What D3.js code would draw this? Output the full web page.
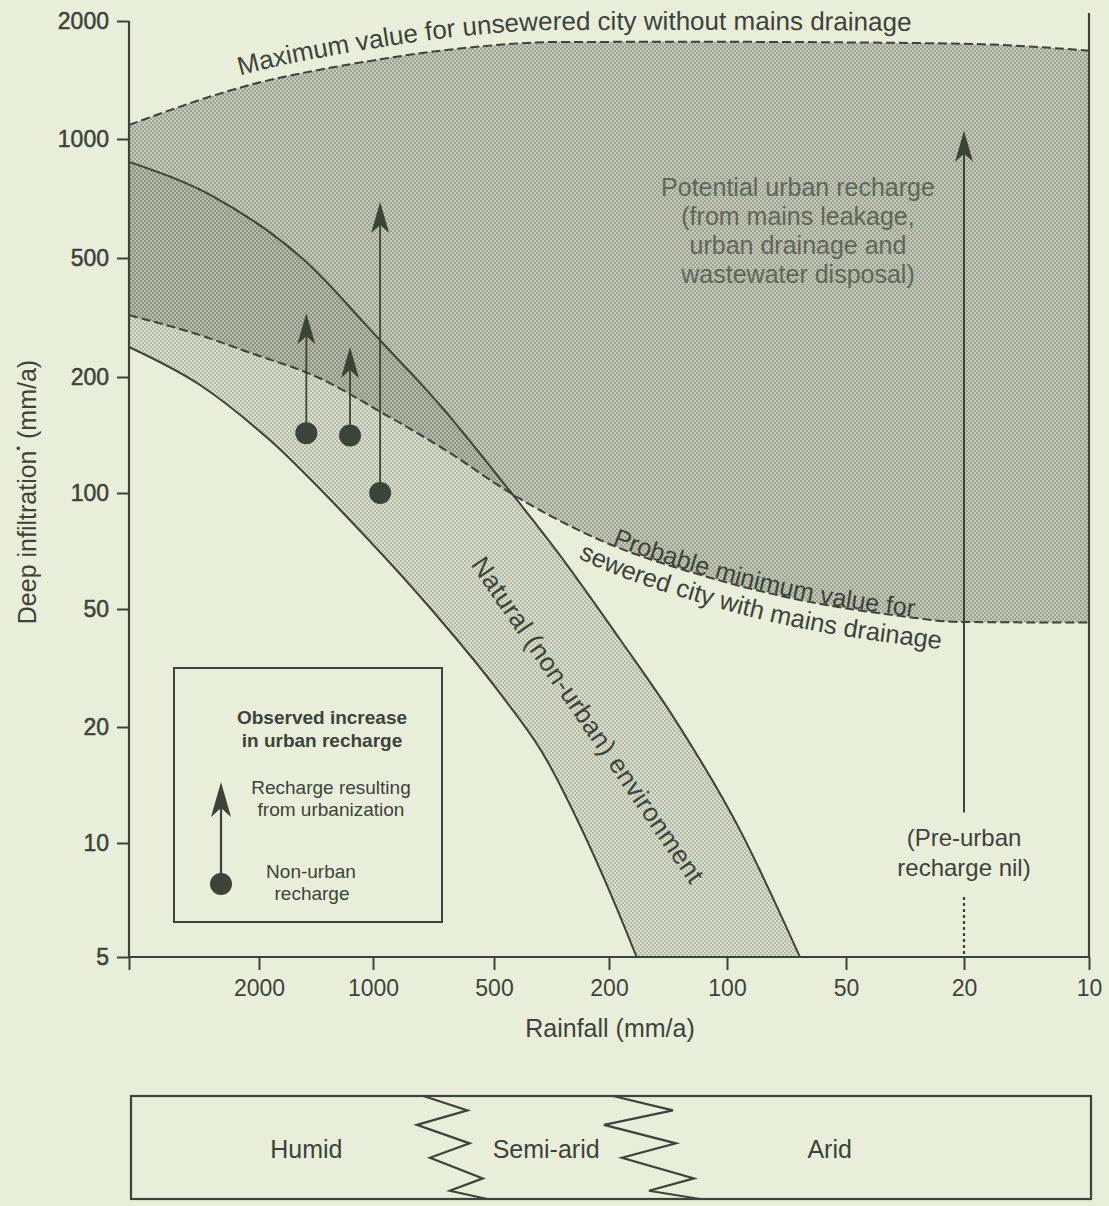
<!DOCTYPE html>
<html><head><meta charset="utf-8">
<script src="https://cdn.jsdelivr.net/npm/d3@7"></script>
<style>
html,body{margin:0;padding:0;background:#e9eedb;}
svg{display:block;font-family:"Liberation Sans",Arial,Helvetica,sans-serif;}
</style></head><body>
<svg id="chart" width="1109" height="1206"></svg>
<script>
// ---------------- data ----------------
const rainTicks = [5000, 2000, 1000, 500, 200, 100, 50, 20, 10];
const rainTickLabels = ["", "2000", "1000", "500", "200", "100", "50", "20", "10"];
const infilTicks = [2000, 1000, 500, 200, 100, 50, 20, 10, 5];
const infilTickLabels = ["2000", "1000", "500", "200", "100", "50", "20", "10", "5"];

// Maximum value for unsewered city without mains drainage
const maxUnseweredRain  = [5000, 2130, 1100, 594, 303, 117, 31, 16.4, 10];
const maxUnseweredInfil = [1086, 1374, 1562, 1706, 1768, 1770, 1758, 1738, 1680];

// Probable minimum value for sewered city with mains drainage
const minSeweredRain  = [5000, 3030, 2130, 1405, 944, 643, 458, 215, 117, 65, 33, 20.6, 10];
const minSeweredInfil = [322, 276, 241, 200, 161, 127, 102, 75.5, 61.3, 52.7, 47.4, 45.2, 45];

// Natural (non-urban) environment band
const naturalUpperRain  = [5000, 2750, 1520, 972, 681, 477, 296, 187, 137, 92.7, 65.4];
const naturalUpperInfil = [875, 714, 492, 270, 169, 109, 69, 39.3, 21.6, 10.8, 5];
const naturalLowerRain  = [5000, 3030, 1870, 1150, 721, 477, 333, 252, 195, 170];
const naturalLowerInfil = [252, 190.7, 137, 85, 50.3, 26.0, 16.7, 11.1, 7.07, 5];

// Observed increase in urban recharge
const observedRain     = [1500, 1150, 960];
const observedNonUrban = [143, 141, 100];
const observedUrban    = [327, 252, 693];

// Arid city: pre-urban recharge nil
const preUrbanRain = 20;
const preUrbanArrowFrom = 12;
const preUrbanArrowTo = 1050;
const preUrbanDottedFrom = 7.2;

// Climate zones (boundaries in rainfall)
const climateZones = ["Humid", "Semi-arid", "Arid"];
const climateZoneCentres = [1500, 330, 55];
const climateBoundaries = [620, 150];

// ---------------- drawing ----------------
const W = 1109, H = 1206;
const ink = "#3b4438";
const bg = "#e9eedb";
const svg = d3.select("#chart");
svg.append("rect").attr("width", W).attr("height", H).attr("fill", bg);

const x = d3.scaleLog().domain(rainTicks).range([129, 259, 373, 494, 609, 727, 846, 964, 1089]);
const y = d3.scaleLog().domain(infilTicks).range([21, 139, 258, 377, 493, 609, 727, 843, 957]);

const defs = svg.append("defs");
function makePattern(id, base, dot) {
  const p = defs.append("pattern").attr("id", id).attr("width", 4).attr("height", 4)
    .attr("patternUnits", "userSpaceOnUse");
  p.append("rect").attr("width", 4).attr("height", 4).attr("fill", base);
  p.append("rect").attr("x", 0).attr("y", 0).attr("width", 2).attr("height", 2).attr("fill", dot);
  p.append("rect").attr("x", 2).attr("y", 2).attr("width", 2).attr("height", 2).attr("fill", dot);
}
makePattern("pUrban", "#c6cbb9", "#9da393");
makePattern("pNat", "#dbe0cd", "#b4baa8");
makePattern("pOver", "#b7bcab", "#8d9384");

const pts = (r, v) => r.map((d, i) => [d, v[i]]);
const maxPts = pts(maxUnseweredRain, maxUnseweredInfil);
const minPts = pts(minSeweredRain, minSeweredInfil);
const natUpPts = pts(naturalUpperRain, naturalUpperInfil);
const natLoPts = pts(naturalLowerRain, naturalLowerInfil);

const line = d3.line().x(d => x(d[0])).y(d => y(d[1])).curve(d3.curveMonotoneX);
const offsetLine = off => d3.line().x(d => x(d[0])).y(d => y(d[1]) + off).curve(d3.curveMonotoneX);

const urbanD = line(maxPts) + line(minPts.slice().reverse()).replace(/^M/, "L") + "Z";
const natD = line(natUpPts) + line(natLoPts.slice().reverse()).replace(/^M/, "L") + "Z";

defs.append("clipPath").attr("id", "urbanClip").append("path").attr("d", urbanD);

svg.append("path").attr("d", urbanD).attr("fill", "url(#pUrban)");
svg.append("path").attr("d", natD).attr("fill", "url(#pNat)");
svg.append("path").attr("d", natD).attr("fill", "url(#pOver)").attr("clip-path", "url(#urbanClip)");

// boundary lines
svg.append("path").attr("d", line(maxPts)).attr("fill", "none").attr("stroke", ink)
  .attr("stroke-width", 2).attr("stroke-dasharray", "9,4");
svg.append("path").attr("d", line(minPts)).attr("fill", "none").attr("stroke", ink)
  .attr("stroke-width", 2).attr("stroke-dasharray", "9,4");
svg.append("path").attr("d", line(natUpPts)).attr("fill", "none").attr("stroke", ink).attr("stroke-width", 2);
svg.append("path").attr("d", line(natLoPts)).attr("fill", "none").attr("stroke", ink).attr("stroke-width", 2);

// axes
const x0 = x(rainTicks[0]), x1 = x(rainTicks[rainTicks.length - 1]);
const yb = y(infilTicks[infilTicks.length - 1]), yt = y(infilTicks[0]);
const axisG = svg.append("g").attr("stroke", ink).attr("stroke-width", 2.2);
axisG.append("line").attr("x1", x0).attr("x2", x0).attr("y1", yt).attr("y2", yb);
axisG.append("line").attr("x1", x1).attr("x2", x1).attr("y1", yt - 8).attr("y2", yb);
axisG.append("line").attr("x1", x0).attr("x2", x1).attr("y1", yb).attr("y2", yb);

const yAxis = d3.axisLeft(y).tickValues(infilTicks).tickFormat((d, i) => infilTickLabels[i])
  .tickSizeOuter(0).tickSizeInner(12).tickPadding(8);
const gy = svg.append("g").attr("transform", `translate(${x0},0)`).call(yAxis);
gy.select(".domain").remove();
gy.selectAll(".tick line").attr("stroke", ink).attr("stroke-width", 2);
gy.selectAll(".tick text").attr("fill", ink).attr("font-size", 23)
  .attr("stroke", ink).attr("stroke-width", 0.5)
  .attr("font-family", "Liberation Sans, Arial, sans-serif");

const xAxis = d3.axisBottom(x).tickValues(rainTicks).tickFormat((d, i) => rainTickLabels[i])
  .tickSizeOuter(0).tickSizeInner(13).tickPadding(10);
const gx = svg.append("g").attr("transform", `translate(0,${yb})`).call(xAxis);
gx.select(".domain").remove();
gx.selectAll(".tick line").attr("stroke", ink).attr("stroke-width", 2);
gx.selectAll(".tick text").attr("fill", ink).attr("font-size", 23)
  .attr("font-family", "Liberation Sans, Arial, sans-serif");

// axis titles
svg.append("text").attr("x", 610).attr("y", 1037).attr("text-anchor", "middle")
  .attr("font-size", 25).attr("fill", ink).text("Rainfall (mm/a)");
const yl = svg.append("text").attr("transform", "translate(36,492) rotate(-90)")
  .attr("text-anchor", "middle").attr("font-size", 25).attr("fill", ink);
yl.append("tspan").text("Deep infiltration");
yl.append("tspan").attr("font-size", 13).attr("dy", -13).text("•");
yl.append("tspan").attr("dy", 13).text(" (mm/a)");

// arrows
function arrowHead(g, cx, tipY) {
  g.append("path").attr("d", `M${cx},${tipY} L${cx + 9},${tipY + 31} L${cx},${tipY + 23} L${cx - 9},${tipY + 31} Z`)
    .attr("fill", ink);
}
const obsG = svg.append("g");
observedRain.forEach((r, i) => {
  const cx = x(r);
  obsG.append("line").attr("x1", cx).attr("x2", cx).attr("y1", y(observedNonUrban[i]))
    .attr("y2", y(observedUrban[i]) + 20).attr("stroke", ink).attr("stroke-width", 1.8);
  arrowHead(obsG, cx, y(observedUrban[i]));
  obsG.append("circle").attr("cx", cx).attr("cy", y(observedNonUrban[i])).attr("r", 11).attr("fill", ink);
});

// pre-urban arrow
const px = x(preUrbanRain);
svg.append("line").attr("x1", px).attr("x2", px).attr("y1", y(preUrbanArrowFrom)).attr("y2", y(preUrbanArrowTo) + 20)
  .attr("stroke", ink).attr("stroke-width", 2);
arrowHead(svg, px, y(preUrbanArrowTo));
svg.append("line").attr("x1", px).attr("x2", px).attr("y1", y(preUrbanDottedFrom)).attr("y2", yb)
  .attr("stroke", ink).attr("stroke-width", 2.2).attr("stroke-dasharray", "3,3");
svg.append("text").attr("x", px).attr("y", 846).attr("text-anchor", "middle").attr("font-size", 24)
  .attr("fill", ink).text("(Pre-urban");
svg.append("text").attr("x", px).attr("y", 876).attr("text-anchor", "middle").attr("font-size", 24)
  .attr("fill", ink).text("recharge nil)");

// curve labels on paths
function lengthAtX(node, tx) {
  let lo = 0, hi = node.getTotalLength();
  for (let i = 0; i < 40; i++) {
    const m = (lo + hi) / 2;
    if (node.getPointAtLength(m).x < tx) lo = m; else hi = m;
  }
  return lo;
}
function pathLabel(id, d, startX, txt, size) {
  const p = defs.append("path").attr("id", id).attr("d", d);
  const off = lengthAtX(p.node(), startX);
  svg.append("text").attr("font-size", size).attr("fill", ink)
    .append("textPath").attr("href", "#" + id).attr("startOffset", off).text(txt);
}
pathLabel("maxPath", offsetLine(-12)(maxPts), 240, "Maximum value for unsewered city without mains drainage", 26);
pathLabel("minPath1", offsetLine(-1)(minPts), 612, "Probable minimum value for", 25);
pathLabel("minPath2", offsetLine(28)(minPts), 578, "sewered city with mains drainage", 25.5);

svg.append("text").attr("transform", "translate(588,720) rotate(55.5)")
  .attr("text-anchor", "middle").attr("dominant-baseline", "central")
  .attr("font-size", 26).attr("letter-spacing", 0.4).attr("fill", ink)
  .text("Natural (non-urban) environment");

// potential urban recharge label
const potLines = ["Potential urban recharge", "(from mains leakage,", "urban drainage and", "wastewater disposal)"];
potLines.forEach((t, i) => {
  svg.append("text").attr("x", 798).attr("y", 196 + i * 29).attr("text-anchor", "middle")
    .attr("font-size", 25).attr("fill", "#5f665a").text(t);
});

// legend
const lg = svg.append("g");
lg.append("rect").attr("x", 174).attr("y", 668).attr("width", 268).attr("height", 254)
  .attr("fill", "none").attr("stroke", ink).attr("stroke-width", 2);
lg.append("text").attr("x", 322).attr("y", 724).attr("text-anchor", "middle").attr("font-size", 19)
  .attr("font-weight", "bold").attr("fill", ink).text("Observed increase");
lg.append("text").attr("x", 322).attr("y", 747).attr("text-anchor", "middle").attr("font-size", 19)
  .attr("font-weight", "bold").attr("fill", ink).text("in urban recharge");
lg.append("text").attr("x", 331).attr("y", 794).attr("text-anchor", "middle").attr("font-size", 19)
  .attr("fill", ink).text("Recharge resulting");
lg.append("text").attr("x", 331).attr("y", 816).attr("text-anchor", "middle").attr("font-size", 19)
  .attr("fill", ink).text("from urbanization");
lg.append("text").attr("x", 311).attr("y", 878).attr("text-anchor", "middle").attr("font-size", 19)
  .attr("fill", ink).text("Non-urban");
lg.append("text").attr("x", 312).attr("y", 900).attr("text-anchor", "middle").attr("font-size", 19)
  .attr("fill", ink).text("recharge");
lg.append("line").attr("x1", 221).attr("x2", 221).attr("y1", 883).attr("y2", 805)
  .attr("stroke", ink).attr("stroke-width", 2.2);
lg.append("path").attr("d", "M221,782 L231,817 L221,808 L211,817 Z").attr("fill", ink);
lg.append("circle").attr("cx", 221).attr("cy", 884).attr("r", 11).attr("fill", ink);

// climate box
const cb = svg.append("g");
const cbTop = 1096, cbBot = 1199;
cb.append("rect").attr("x", 131).attr("y", cbTop).attr("width", 960).attr("height", cbBot - cbTop)
  .attr("fill", "none").attr("stroke", ink).attr("stroke-width", 2.2);
climateZones.forEach((z, i) => {
  cb.append("text").attr("x", x(climateZoneCentres[i])).attr("y", 1158).attr("text-anchor", "middle")
    .attr("font-size", 25).attr("fill", ink).text(z);
});
const zig = [[-30, 0], [10, 0.14], [-36, 0.28], [12, 0.46], [-24, 0.6], [24, 0.8], [-6, 0.92], [28, 1]];
climateBoundaries.forEach((b, k) => {
  const cx = x(b);
  const sc = k === 0 ? 1.1 : 1.5;
  const ptsZ = zig.map(([dx, f]) => [cx + dx * sc, cbTop + f * (cbBot - cbTop)]);
  cb.append("path").attr("d", d3.line()(ptsZ)).attr("fill", "none").attr("stroke", ink)
    .attr("stroke-width", 2.2).attr("stroke-linejoin", "miter");
});
</script>
</body></html>
